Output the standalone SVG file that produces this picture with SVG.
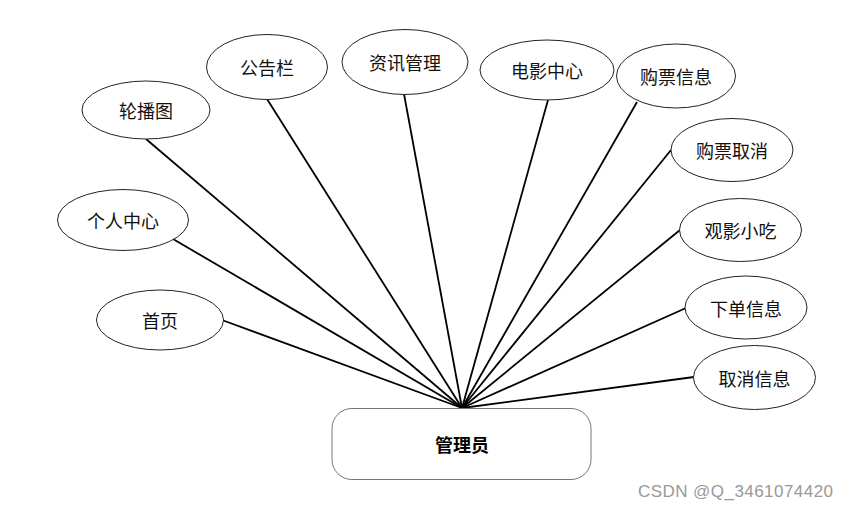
<svg xmlns="http://www.w3.org/2000/svg" width="849" height="509" viewBox="0 0 849 509">
<style>
.n ellipse{fill:#fff;stroke:#222;stroke-width:1}
.n text{font-family:"Noto Sans CJK SC","Noto Sans",sans-serif;font-size:18px;fill:#111;text-anchor:middle;dominant-baseline:central}
#connectors line{stroke:#000;stroke-width:1.8}
.root rect{fill:#fff;stroke:#777;stroke-width:1}
.root text{font-family:"Noto Sans CJK SC","Noto Sans",sans-serif;font-size:18px;font-weight:bold;fill:#000;text-anchor:middle;dominant-baseline:central}
.wm{font-family:"Liberation Sans",Arial,sans-serif;font-size:17px;fill:#999}
</style>
<rect width="849" height="509" fill="#fff"/>
<g id="connectors">
<line x1="222" y1="320" x2="462" y2="408"/>
<line x1="173" y1="239" x2="462" y2="408"/>
<line x1="146" y1="139" x2="462" y2="408"/>
<line x1="267" y1="99" x2="462" y2="408"/>
<line x1="404" y1="94" x2="462" y2="408"/>
<line x1="548" y1="100" x2="462" y2="408"/>
<line x1="637" y1="102" x2="462" y2="408"/>
<line x1="671" y1="150" x2="462" y2="408"/>
<line x1="680" y1="230" x2="462" y2="408"/>
<line x1="686" y1="308" x2="462" y2="408"/>
<line x1="694" y1="377" x2="462" y2="408"/>
</g>
<g id="n-lunbotu" class="n"><ellipse cx="146" cy="110" rx="64" ry="29"/><text x="146" y="110">轮播图</text></g>
<g id="n-gonggaolan" class="n"><ellipse cx="267" cy="67" rx="60.5" ry="32.5"/><text x="267" y="67">公告栏</text></g>
<g id="n-zixun" class="n"><ellipse cx="405" cy="62" rx="63" ry="32.5"/><text x="405" y="62">资讯管理</text></g>
<g id="n-dianying" class="n"><ellipse cx="547" cy="70" rx="67" ry="30"/><text x="547" y="70">电影中心</text></g>
<g id="n-goupiao" class="n"><ellipse cx="676" cy="76" rx="59.5" ry="32"/><text x="676" y="76">购票信息</text></g>
<g id="n-goupiaoquxiao" class="n"><ellipse cx="732" cy="150" rx="61" ry="31.5"/><text x="732" y="150">购票取消</text></g>
<g id="n-geren" class="n"><ellipse cx="123" cy="220" rx="65.5" ry="30.5"/><text x="123" y="220">个人中心</text></g>
<g id="n-shouye" class="n"><ellipse cx="160" cy="320" rx="63.5" ry="30"/><text x="160" y="320">首页</text></g>
<g id="n-xiaochi" class="n"><ellipse cx="740.5" cy="230" rx="61" ry="31.5"/><text x="740.5" y="230">观影小吃</text></g>
<g id="n-xiadan" class="n"><ellipse cx="746" cy="307.5" rx="61" ry="31.5"/><text x="746" y="307.5">下单信息</text></g>
<g id="n-quxiao" class="n"><ellipse cx="754.5" cy="377.5" rx="61" ry="32"/><text x="754.5" y="377.5">取消信息</text></g>
<g id="n-admin" class="root"><rect x="332" y="408.5" width="259" height="71" rx="20" ry="20"/><text x="462" y="444">管理员</text></g>
<text class="wm" x="638" y="497" textLength="195" lengthAdjust="spacing">CSDN @Q_3461074420</text>
</svg>
